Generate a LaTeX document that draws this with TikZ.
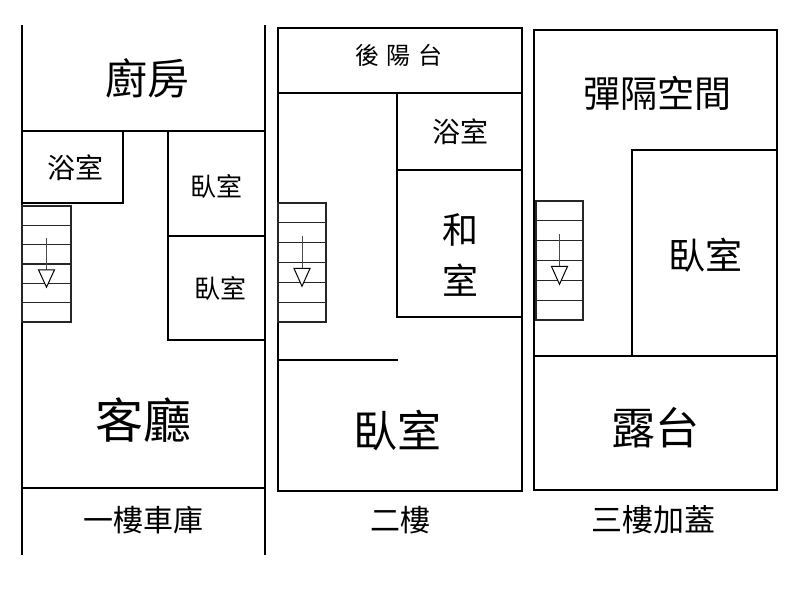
\documentclass[tikz,border=0pt]{standalone}
\usepackage{fontspec}
\newfontfamily\cjk{Noto Sans CJK TC}
\begin{document}
\begin{tikzpicture}[x=1pt,y=-1pt,wall/.style={line width=1.6pt},
thin/.style={line width=1.3pt},
t/.style={font=\cjk\fontsize{#1}{#1}\selectfont,inner sep=0pt}]
\useasboundingbox (0,0) rectangle (800,600);
\newcommand\stairs[4]{% x1 x2 ytop ybottom
 \draw[thin,black!85] (#1,#3) rectangle (#2,#4);
 \foreach \k in {1,...,5}{\draw[thin,black!85] (#1,{#3+\k*(#4-#3)/6}) -- (#2,{#3+\k*(#4-#3)/6});}
 \draw[line width=0.9pt,black!70] ({(#1+#2)/2},{#3+0.28*(#4-#3)}) -- ({(#1+#2)/2},{#3+0.55*(#4-#3)});
 \draw[line width=1pt,fill=white] ({(#1+#2)/2-8},{#3+0.55*(#4-#3)}) -- ({(#1+#2)/2+8},{#3+0.55*(#4-#3)}) -- ({(#1+#2)/2},{#3+0.7*(#4-#3)}) -- cycle;}
% panel 1
\draw[wall] (22,25) -- (22,555) (265,25) -- (265,555);
\draw[wall] (22,131) -- (265,131) (22,488) -- (265,488);
\draw[wall] (22,203) -- (123,203) -- (123,131);
\draw[wall] (168,131) -- (168,340) -- (265,340) (168,236) -- (265,236);
\stairs{22}{71}{206}{322}
\node[t=42] (a1) at (147,78) {廚房};
\node[t=28] (a2) at (75,168) {浴室};
\node[t=26] (a3) at (216,186) {臥室};
\node[t=26] (a4) at (220,288) {臥室};
\node[t=48] (a5) at (143,420) {客廳};
\node[t=30] (a6) at (143,520) {一樓車庫};
% panel 2
\draw[wall] (278,28) rectangle (522,491);
\draw[wall] (278,93) -- (522,93) (397,93) -- (397,317) -- (522,317) (397,170) -- (522,170);
\draw[wall] (278,360) -- (398,360);
\stairs{278}{326}{203}{322}
\node[t=24] (b1) at (399,55) {後\,\,陽\,\,台};
\node[t=28] (b2) at (460,132) {浴室};
\node[t=36] (b3) at (460,230) {和};
\node[t=36] (b4) at (460,280) {室};
\node[t=44] (b5) at (397,430) {臥室};
\node[t=30] (b6) at (400,520) {二樓};
% panel 3
\draw[wall] (534,30) rectangle (777,490);
\draw[wall] (534,356) -- (777,356) (632,356) -- (632,150) -- (777,150);
\stairs{536}{583}{201}{320}
\node[t=37] (c1) at (657,93) {彈隔空間};
\node[t=37] (c2) at (705,255) {臥室};
\node[t=44] (c3) at (655,428) {露台};
\node[t=31] (c4) at (653,520) {三樓加蓋};
\end{tikzpicture}
\end{document}
